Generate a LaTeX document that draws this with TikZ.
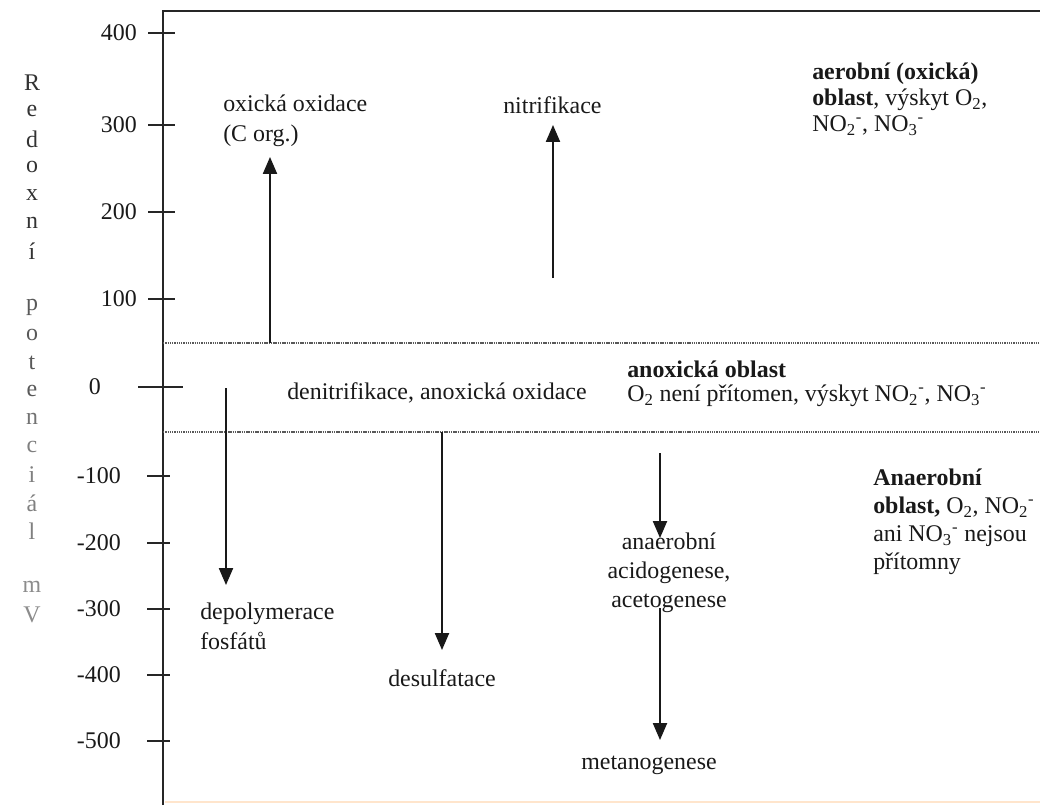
\documentclass[tikz,border=0pt]{standalone}
\usepackage{fontspec}
\setmainfont{Liberation Serif}
\usetikzlibrary{arrows.meta}
\begin{document}
\begin{tikzpicture}[x=0.025cm,y=-0.025cm,
  txt/.style={font=\fontsize{17}{20}\selectfont, text=black!90, inner sep=0pt, align=left},
  tick/.style={line width=1.2pt, black!85},
  axisline/.style={line width=1.4pt, black!85},
  zoneline/.style={line width=1.2pt, black!65, dash pattern=on 0.9pt off 0.7pt},
  flow/.style={line width=1.2pt, black!90, -{Triangle[length=12pt,width=10pt]}},
  vlet/.style={font=\fontsize{17}{20}\selectfont, inner sep=0pt}
]
\useasboundingbox (0,0) rectangle (1040,805);
\fill[white] (0,0) rectangle (1040,805);

% frame
\coordinate (tl) at (163,11);
\coordinate (tr) at (1040,11);
\coordinate (bl) at (163,805);
\draw[axisline] (bl) -- (tl) -- (tr);
\draw[line width=1pt, orange!20] (165,802) -- (1040,802);

% zone boundaries
\coordinate (z1l) at (163,343); \coordinate (z1r) at (1040,343);
\coordinate (z2l) at (163,432); \coordinate (z2r) at (1040,432);
\draw[zoneline] (z1l) -- (z1r);
\draw[zoneline] (z2l) -- (z2r);

% ticks and labels
\foreach \v/\y in {400/33,300/125,200/212,100/299}{
  \draw[tick] (148,\y) coordinate (t\v a) -- (175,\y) coordinate (t\v b);
  \node[txt, anchor=east] (l\v) at (137,\y) {\v};
}
\draw[tick] (138,387) coordinate (t0a) -- (183,387) coordinate (t0b);
\node[txt, anchor=east] (l0) at (101,387) {0};
\foreach \n/\v/\y in {1/-100/476,2/-200/543,3/-300/609,4/-400/675,5/-500/741}{
  \draw[tick] (147,\y) coordinate (tn\n a) -- (170,\y) coordinate (tn\n b);
  \node[txt, anchor=east] (ln\n) at (121,\y) {\v};
}

% vertical axis title
\foreach \c/\i/\col in {R/0/80,e/1/80,d/2/80,o/3/80,x/4/80,n/5/80,í/6/80,
  p/8/65,o/9/65,t/10/65,e/11/65,n/12/55,c/13/50,i/14/50,á/15/50,l/16/50,m/18/45,V/19/45}{
  \node[vlet, text=black!\col] (v\i) at (32,83+28*\i) {\c};
}

% texts
\node[txt, anchor=west, font=\fontsize{17}{21.5}\selectfont] (oxid) at (223,121) {oxická oxidace\\(C org.)};
\node[txt, anchor=west] (nitr) at (503,105) {nitrifikace};
\node[txt, anchor=west, font=\fontsize{17}{18.5}\selectfont] (aer) at (812,99)
  {\textbf{aerobní (oxická)}\\\textbf{oblast}, výskyt O\textsubscript{2},\\NO\textsubscript{2}\textsuperscript{-}, NO\textsubscript{3}\textsuperscript{-}};
\node[txt, anchor=west] (denit) at (287,393) {denitrifikace, anoxická oxidace};
\node[txt, anchor=west, font=\fontsize{17}{17}\selectfont] (anox) at (627,384)
  {\textbf{anoxická oblast}\\O\textsubscript{2} není přítomen, výskyt NO\textsubscript{2}\textsuperscript{-}, NO\textsubscript{3}\textsuperscript{-}};
\node[txt, anchor=west, font=\fontsize{17}{20}\selectfont] (anaer) at (873,522)
  {\textbf{Anaerobní}\\\textbf{oblast,} O\textsubscript{2}, NO\textsubscript{2}\textsuperscript{-}\\ani NO\textsubscript{3}\textsuperscript{-} nejsou\\přítomny};
\node[txt, anchor=west, font=\fontsize{17}{21.5}\selectfont] (depol) at (200,626) {depolymerace\\fosfátů};
\node[txt] (desulf) at (442,678) {desulfatace};
\node[txt, align=center, font=\fontsize{17}{20.5}\selectfont] (acid) at (669,573) {anaerobní\\acidogenese,\\acetogenese};
\node[txt] (metan) at (649,765) {metanogenese};

% arrows
\coordinate (a1s) at (270,343); \coordinate (a1e) at (270,157);
\coordinate (a2s) at (553,278); \coordinate (a2e) at (553,125);
\coordinate (a3s) at (226,388); \coordinate (a3e) at (226,585);
\coordinate (a4s) at (442,432); \coordinate (a4e) at (442,650);
\coordinate (a5s) at (660,453); \coordinate (a5e) at (660,538);
\coordinate (a6s) at (660,608); \coordinate (a6e) at (660,740);
\draw[flow] (a1s) -- (a1e);
\draw[flow] (a2s) -- (a2e);
\draw[flow] (a3s) -- (a3e);
\draw[flow] (a4s) -- (a4e);
\draw[flow] (a5s) -- (a5e);
\draw[flow] (a6s) -- (a6e);
\end{tikzpicture}
\end{document}
